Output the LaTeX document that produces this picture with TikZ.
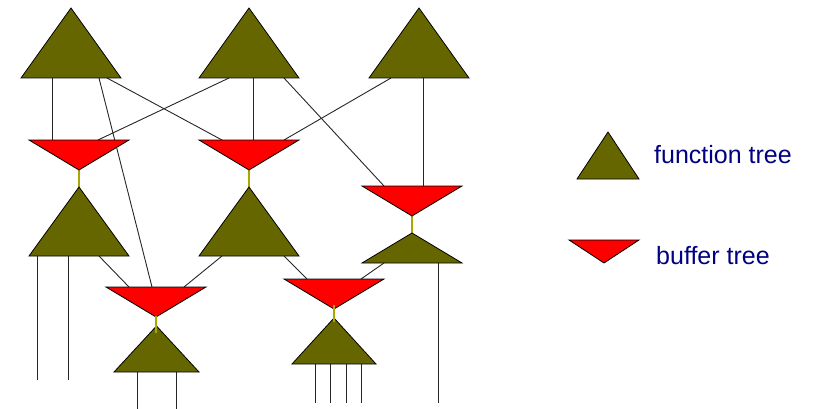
\documentclass[tikz,border=0pt]{standalone}
\usepackage{fontspec}
\setmainfont{Liberation Sans}
\definecolor{olivefn}{HTML}{666600}
\definecolor{bufred}{HTML}{FF0000}
\definecolor{joiny}{HTML}{A8A800}
\definecolor{navytext}{HTML}{000080}
\tikzset{
  fntree/.style={fill=olivefn,draw=black,line width=0.8pt,line join=miter},
  buftree/.style={fill=bufred,draw=black,line width=0.8pt,line join=miter},
  wire/.style={draw=black!85,line width=0.9pt},
  joinwire/.style={draw=joiny,line width=1.2pt},
  legtext/.style={text=navytext,font=\fontsize{25}{29}\selectfont,anchor=west,inner sep=0pt}
}
\begin{document}
\begin{tikzpicture}[x=1pt,y=-1pt]
\useasboundingbox (0,0) rectangle (816,409);
% ---- wires first (behind shapes)
% T1
\coordinate (t1a) at (52,78);  \coordinate (b1a) at (52,140);
\coordinate (t1b) at (99,78);  \coordinate (b4a) at (152,287);
\coordinate (t1c) at (107,78); \coordinate (b2a) at (222,140);
% T2
\coordinate (t2a) at (229,78); \coordinate (b1b) at (98,140);
\coordinate (t2b) at (253,78); \coordinate (b2b) at (253,140);
\coordinate (t2c) at (284,78); \coordinate (b3a) at (384,186);
% T3
\coordinate (t3a) at (391,78); \coordinate (b2c) at (284,140);
\coordinate (t3b) at (423,78); \coordinate (b3b) at (423,186);
% mid
\coordinate (t4a) at (99,256);  \coordinate (b4b) at (129,287);
\coordinate (t5a) at (222,256); \coordinate (b4c) at (184,287);
\coordinate (t5b) at (284,256); \coordinate (b5a) at (307,279);
\coordinate (t6a) at (384,263); \coordinate (b5b) at (361,279);
\draw[wire] (t1a) -- (b1a);
\draw[wire] (t1b) -- (b4a);
\draw[wire] (t1c) -- (b2a);
\draw[wire] (t2a) -- (b1b);
\draw[wire] (t2b) -- (b2b);
\draw[wire] (t2c) -- (b3a);
\draw[wire] (t3a) -- (b2c);
\draw[wire] (t3b) -- (b3b);
\draw[wire] (t4a) -- (b4b);
\draw[wire] (t5a) -- (b4c);
\draw[wire] (t5b) -- (b5a);
\draw[wire] (t6a) -- (b5b);
% output wires
\foreach \x/\y/\e [count=\i] in {37/256/380,68/256/380,137/372/409,176/372/409,315/364/403,330/364/403,346/364/403,361/364/403,438/263/403}{
  \coordinate (o\i s) at (\x,\y); \coordinate (o\i e) at (\x,\e);
  \draw[wire] (o\i s) -- (o\i e);
}
% yellow joins
\coordinate (j1s) at (79,170);  \coordinate (j1e) at (79,188);
\coordinate (j2s) at (249,170); \coordinate (j2e) at (249,188);
\coordinate (j3s) at (412,216); \coordinate (j3e) at (412,234);
\draw[joinwire] (j1s) -- (j1e);
\draw[joinwire] (j2s) -- (j2e);
\draw[joinwire] (j3s) -- (j3e);
% ---- function trees
\path[fntree] (71,8) -- (121,78) -- (21,78) -- cycle;
\path[fntree] (249,8) -- (299,78) -- (199,78) -- cycle;
\path[fntree] (419,8) -- (469,78) -- (369,78) -- cycle;
\path[fntree] (79,187) -- (129,256) -- (29,256) -- cycle;
\path[fntree] (249,187) -- (299,256) -- (199,256) -- cycle;
\path[fntree] (412,233) -- (462,263) -- (362,263) -- cycle;
\path[fntree] (156.5,326) -- (199,372) -- (114,372) -- cycle;
\path[fntree] (334,318) -- (376,364) -- (292,364) -- cycle;
% ---- buffer trees
\path[buftree] (29,140) -- (129,140) -- (79,170) -- cycle;
\path[buftree] (199,140) -- (299,140) -- (249,170) -- cycle;
\path[buftree] (362,186) -- (462,186) -- (412,216) -- cycle;
\path[buftree] (106,287) -- (206,287) -- (156,317) -- cycle;
\path[buftree] (284,279) -- (384,279) -- (334,309) -- cycle;
% joins over the lower trees
\coordinate (j4s) at (156,316); \coordinate (j4e) at (156,333);
\coordinate (j5s) at (334,305); \coordinate (j5e) at (334,322);
\draw[joinwire] (j4s) -- (j4e);
\draw[joinwire] (j5s) -- (j5e);
% ---- legend
\path[fntree] (608,132) -- (639,179) -- (577,179) -- cycle;
\path[buftree] (569,240) -- (639,240) -- (604,263) -- cycle;
\node[legtext] (lfn) at (654,155) {function tree};
\node[legtext] (lbuf) at (656,256) {buffer tree};
\end{tikzpicture}
\end{document}
